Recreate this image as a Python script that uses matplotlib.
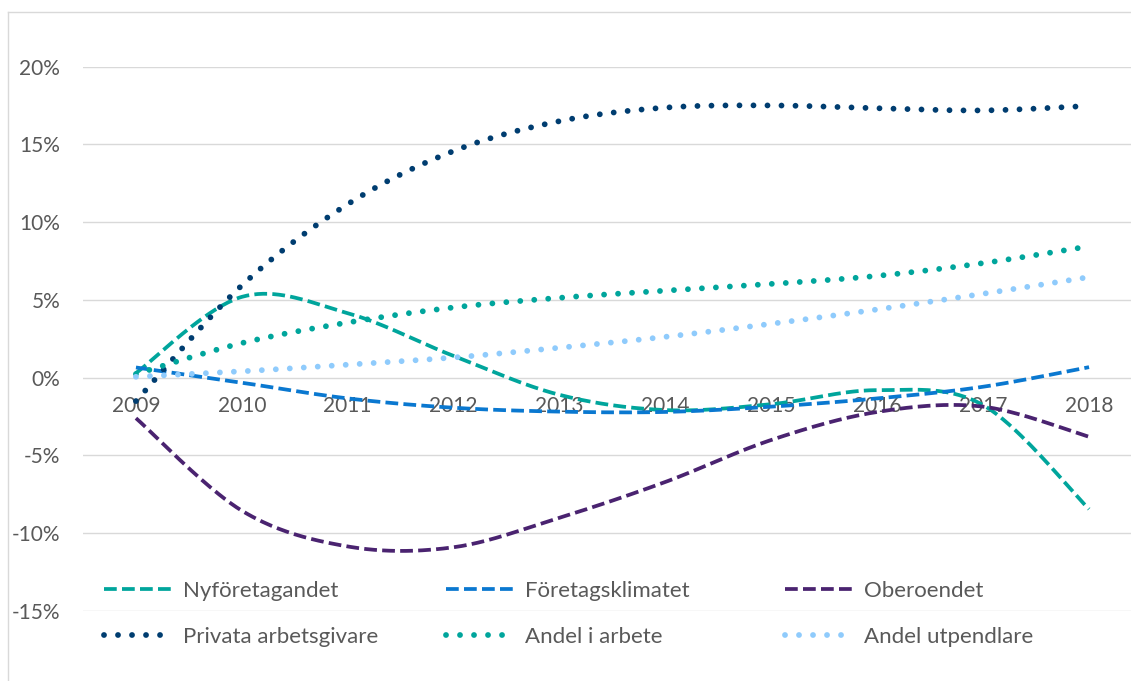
import numpy as np
import matplotlib
matplotlib.use("Agg")
import matplotlib.pyplot as plt
from matplotlib.lines import Line2D
from matplotlib.ticker import FuncFormatter, FixedLocator

# ---------------- data (percent) ----------------
years = [2009, 2010, 2011, 2012, 2013, 2014, 2015, 2016, 2017, 2018]
year_labels = [str(y) for y in years]

nyforetagandet = [0.3, 5.2, 4.15, 1.4, -1.1, -2.08, -1.7, -0.8, -1.76, -8.45]
foretagsklimatet = [0.66, -0.32, -1.33, -1.93, -2.18, -2.2, -1.86, -1.33, -0.58, 0.68]
oberoendet = [-2.6, -8.55, -10.85, -10.9, -9.0, -6.7, -4.0, -2.2, -1.86, -3.8]
privata_arbetsgivare = [-1.5, 5.94, 11.16, 14.58, 16.5, 17.37, 17.51, 17.33, 17.19, 17.48]
andel_i_arbete = [0.24, 2.23, 3.55, 4.52, 5.14, 5.6, 6.03, 6.55, 7.37, 8.45]
andel_utpendlare = [0.06, 0.41, 0.84, 1.3, 1.93, 2.63, 3.47, 4.39, 5.4, 6.47]

y_ticks = [-15, -10, -5, 0, 5, 10, 15, 20]

series_names = ["Nyföretagandet", "Företagsklimatet", "Oberoendet",
                "Privata arbetsgivare", "Andel i arbete", "Andel utpendlare"]
series_values = [nyforetagandet, foretagsklimatet, oberoendet,
                 privata_arbetsgivare, andel_i_arbete, andel_utpendlare]
series_colors = ["#00A59C", "#0A78D0", "#4A2370", "#003D70", "#00A59C", "#8FCBFC"]
series_styles = ["dash", "dash", "dash", "dot", "dot", "dot"]


def smooth_curve(x, y, n=40):
    """Excel-like smoothed line (Bezier through the points) for drawing."""
    x = np.asarray(x, float)
    y = np.asarray(y, float)
    px = np.concatenate([[x[0]], x, [x[-1]]])
    py = np.concatenate([[y[0]], y, [y[-1]]])
    t = np.linspace(0, 1, n, endpoint=False)
    xs, ys = [], []
    for i in range(len(x) - 1):
        p0 = np.array([px[i], py[i]])
        p1 = np.array([px[i + 1], py[i + 1]])
        p2 = np.array([px[i + 2], py[i + 2]])
        p3 = np.array([px[i + 3], py[i + 3]])
        c1 = p1 + (p2 - p0) / 6.0
        c2 = p2 - (p3 - p1) / 6.0
        b = ((1 - t) ** 3)[:, None] * p1 + (3 * (1 - t) ** 2 * t)[:, None] * c1 \
            + (3 * (1 - t) * t ** 2)[:, None] * c2 + (t ** 3)[:, None] * p2
        xs.extend(b[:, 0]); ys.extend(b[:, 1])
    xs.append(x[-1]); ys.append(y[-1])
    return np.array(xs), np.array(ys)


W, H = 1131, 681
fig = plt.figure(figsize=(W / 100, H / 100), dpi=100)
plt.rcParams["font.family"] = ["Lato", "DejaVu Sans"]
text_color = "#595959"
grid_color = "#D9D9D9"

# outer chart border (left and top visible)
fig.add_artist(Line2D([8 / W, 8 / W], [0, 1 - 12 / H], transform=fig.transFigure,
                      color=grid_color, lw=1.0))
fig.add_artist(Line2D([8 / W, 1], [1 - 12 / H, 1 - 12 / H], transform=fig.transFigure,
                      color=grid_color, lw=1.0))

left_px, right_px = 83, 1142
top_px, bottom_px = 66.7, 611
ax = fig.add_axes([left_px / W, 1 - bottom_px / H,
                   (right_px - left_px) / W, (bottom_px - top_px) / H])
ax.set_facecolor("none")
ax.set_xlim(2008.5, 2018.5)
ax.set_ylim(-15, 20)
ax.set_axisbelow(True)

for name, vals, col, sty in zip(series_names, series_values, series_colors, series_styles):
    sx, sy = smooth_curve(years, vals)
    if sty == "dash":
        ax.plot(sx, sy, color=col, lw=2.7, linestyle=(0, (3.4, 1.4)),
                dash_capstyle="butt", label=name, zorder=3)
    else:
        ax.plot(sx, sy, color=col, lw=4.2, linestyle=(0, (0.001, 2.4)),
                dash_capstyle="round", label=name, zorder=3)

ax.yaxis.set_major_locator(FixedLocator(y_ticks))
ax.yaxis.set_major_formatter(FuncFormatter(lambda v, p: f"{v:.0f}%"))
ax.yaxis.grid(True, color=grid_color, lw=1.0)
ax.xaxis.grid(False)
ax.set_xticks(years)
ax.set_xticklabels(year_labels)
for s in ["top", "right", "left"]:
    ax.spines[s].set_visible(False)
ax.spines["bottom"].set_position(("data", 0))
ax.spines["bottom"].set_visible(False)
ax.tick_params(axis="y", length=0, pad=16.5, labelsize=15, labelcolor=text_color)
ax.tick_params(axis="x", length=0, pad=13, labelsize=15, labelcolor=text_color)

# legend: 3 columns x 2 rows
handles = ax.get_lines()
col_x = [104, 446, 785]
row_y = [591, 637]
for i, h in enumerate(handles):
    r, c = divmod(i, 3)
    lg = fig.legend([h], [series_names[i]], loc="center left",
                    bbox_to_anchor=(col_x[c] / W, 1 - row_y[r] / H),
                    frameon=False, fontsize=16, handlelength=3.1,
                    handletextpad=0.45, borderpad=0, borderaxespad=0)
    for t in lg.get_texts():
        t.set_color(text_color)

fig.savefig("out.png", dpi=100)
